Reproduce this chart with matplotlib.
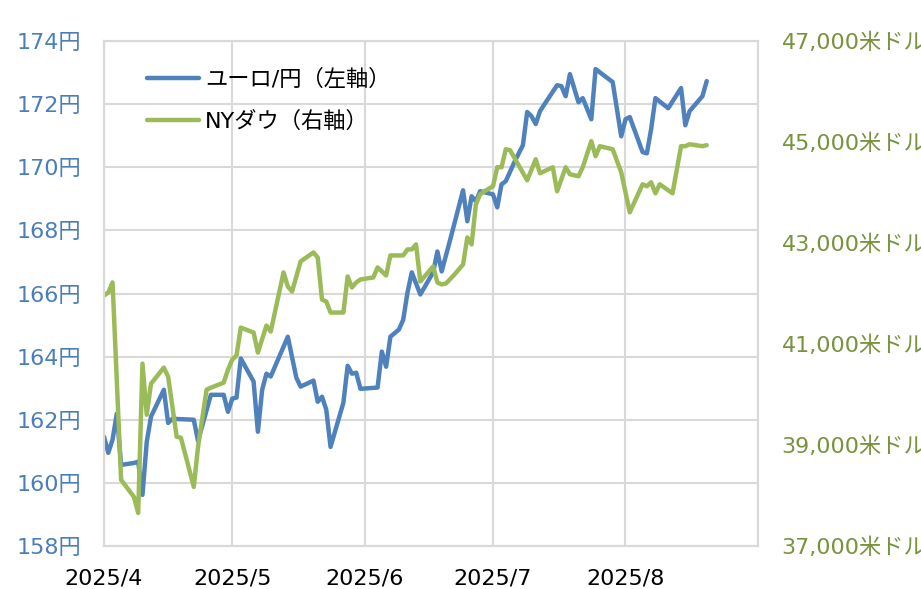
import matplotlib
matplotlib.use('Agg')
import matplotlib.pyplot as plt
import pandas as pd

plt.rcParams['font.family'] = ['DejaVu Sans', 'Noto Sans CJK JP']

# EUR/JPY (left axis)
eur_dates = ['2025-04-01', '2025-04-02', '2025-04-03', '2025-04-04', '2025-04-05',
             '2025-04-08', '2025-04-09', '2025-04-10', '2025-04-11', '2025-04-12',
             '2025-04-15', '2025-04-16', '2025-04-17', '2025-04-22', '2025-04-23',
             '2025-04-26', '2025-04-29', '2025-04-30', '2025-05-01', '2025-05-02',
             '2025-05-03', '2025-05-06', '2025-05-07', '2025-05-08', '2025-05-09',
             '2025-05-10', '2025-05-14', '2025-05-16', '2025-05-17', '2025-05-20',
             '2025-05-21', '2025-05-22', '2025-05-23', '2025-05-24', '2025-05-27',
             '2025-05-28', '2025-05-29', '2025-05-30', '2025-05-31', '2025-06-04',
             '2025-06-05', '2025-06-06', '2025-06-07', '2025-06-09', '2025-06-10',
             '2025-06-11', '2025-06-12', '2025-06-14', '2025-06-17', '2025-06-18',
             '2025-06-19', '2025-06-21', '2025-06-24', '2025-06-25', '2025-06-26',
             '2025-06-27', '2025-06-28', '2025-06-29', '2025-07-01', '2025-07-02',
             '2025-07-03', '2025-07-04', '2025-07-06', '2025-07-08', '2025-07-09',
             '2025-07-10', '2025-07-11', '2025-07-12', '2025-07-14', '2025-07-16',
             '2025-07-17', '2025-07-18', '2025-07-19', '2025-07-21', '2025-07-22',
             '2025-07-24', '2025-07-25', '2025-07-29', '2025-07-31', '2025-08-01',
             '2025-08-02', '2025-08-05', '2025-08-06', '2025-08-07', '2025-08-08',
             '2025-08-11', '2025-08-14', '2025-08-15', '2025-08-16', '2025-08-19',
             '2025-08-20']
eur_values = [161.46, 160.95, 161.37, 162.19, 160.57,
              160.63, 160.67, 159.62, 161.30, 162.10,
              162.95, 161.90, 162.03, 162.00, 161.33,
              162.79, 162.79, 162.25, 162.67, 162.70,
              163.94, 163.21, 161.62, 162.95, 163.46,
              163.37, 164.63, 163.33, 163.05, 163.24,
              162.57, 162.73, 162.32, 161.14, 162.54,
              163.71, 163.46, 163.49, 162.98, 163.02,
              164.16, 163.68, 164.63, 164.86, 165.17,
              166.03, 166.67, 165.97, 166.67, 167.33,
              166.70, 167.71, 169.27, 168.29, 169.08,
              168.92, 169.24, 169.21, 169.14, 168.73,
              169.46, 169.56, 170.16, 170.70, 171.75,
              171.62, 171.37, 171.78, 172.19, 172.60,
              172.57, 172.25, 172.95, 172.06, 172.19,
              171.52, 173.11, 172.70, 170.98, 171.52,
              171.59, 170.48, 170.44, 171.21, 172.19,
              171.87, 172.51, 171.33, 171.78, 172.25,
              172.73]

# NY Dow (right axis)
dow_dates = ['2025-04-01', '2025-04-02', '2025-04-03', '2025-04-05', '2025-04-08',
             '2025-04-09', '2025-04-10', '2025-04-11', '2025-04-12', '2025-04-15',
             '2025-04-16', '2025-04-18', '2025-04-19', '2025-04-22', '2025-04-23',
             '2025-04-25', '2025-04-26', '2025-04-29', '2025-04-30', '2025-05-01',
             '2025-05-02', '2025-05-03', '2025-05-06', '2025-05-07', '2025-05-09',
             '2025-05-10', '2025-05-13', '2025-05-14', '2025-05-15', '2025-05-17',
             '2025-05-20', '2025-05-21', '2025-05-22', '2025-05-23', '2025-05-24',
             '2025-05-27', '2025-05-28', '2025-05-29', '2025-05-30', '2025-05-31',
             '2025-06-03', '2025-06-04', '2025-06-06', '2025-06-07', '2025-06-10',
             '2025-06-11', '2025-06-12', '2025-06-13', '2025-06-14', '2025-06-17',
             '2025-06-18', '2025-06-19', '2025-06-20', '2025-06-22', '2025-06-24',
             '2025-06-25', '2025-06-26', '2025-06-27', '2025-06-28', '2025-06-29',
             '2025-07-01', '2025-07-02', '2025-07-03', '2025-07-04', '2025-07-05',
             '2025-07-09', '2025-07-11', '2025-07-12', '2025-07-15', '2025-07-16',
             '2025-07-18', '2025-07-19', '2025-07-21', '2025-07-22', '2025-07-24',
             '2025-07-25', '2025-07-26', '2025-07-29', '2025-07-31', '2025-08-02',
             '2025-08-05', '2025-08-06', '2025-08-07', '2025-08-08', '2025-08-09',
             '2025-08-12', '2025-08-14', '2025-08-15', '2025-08-16', '2025-08-19',
             '2025-08-20']
dow_values = [41960, 42020, 42218, 38310, 37973,
              37655, 40611, 39600, 40214, 40532,
              40353, 39163, 39143, 38171, 38965,
              40095, 40135, 40234, 40492, 40690,
              40770, 41325, 41226, 40830, 41365,
              41246, 42417, 42139, 42040, 42635,
              42813, 42714, 41880, 41841, 41623,
              41623, 42337, 42119, 42218, 42278,
              42317, 42516, 42357, 42754, 42754,
              42873, 42873, 42972, 42238, 42536,
              42218, 42179, 42198, 42377, 42575,
              43111, 42972, 43766, 43965, 44024,
              44123, 44500, 44500, 44857, 44837,
              44242, 44659, 44381, 44500, 44024,
              44500, 44361, 44322, 44500, 45016,
              44718, 44917, 44857, 44401, 43607,
              44163, 44123, 44202, 43984, 44163,
              43984, 44917, 44917, 44956, 44917,
              44937]

left_ticks = [158, 160, 162, 164, 166, 168, 170, 172, 174]
right_ticks = [37000, 39000, 41000, 43000, 45000, 47000]
month_starts = ['2025-04-01', '2025-05-01', '2025-06-01', '2025-07-01', '2025-08-01', '2025-09-01']
month_labels = ['2025/4', '2025/5', '2025/6', '2025/7', '2025/8', '']

BLUE = '#4f81bd'
GREEN = '#9bbb59'
GRID = '#d9d9d9'

fig = plt.figure(figsize=(9.21, 5.89), dpi=100)
ax = fig.add_axes([104 / 921, 1 - 546 / 589, 654 / 921, 505 / 589])
ax2 = ax.twinx()

l1, = ax.plot(pd.to_datetime(eur_dates), eur_values, color=BLUE, lw=3.2,
              solid_joinstyle='round', solid_capstyle='round', label='ユーロ/円（左軸）')
l2, = ax2.plot(pd.to_datetime(dow_dates), dow_values, color=GREEN, lw=3.2,
               solid_joinstyle='round', solid_capstyle='round', label='NYダウ（右軸）')

ax.set_xlim(pd.Timestamp('2025-04-01'), pd.Timestamp('2025-09-01'))
ax.set_ylim(158, 174)
ax2.set_ylim(37000, 47000)

ax.set_xticks(pd.to_datetime(month_starts))
ax.set_xticklabels(month_labels)
ax.set_yticks(left_ticks)
ax.set_yticklabels([f'{v}円' for v in left_ticks])
ax2.set_yticks(right_ticks)
ax2.set_yticklabels([f'{v:,}米ドル' for v in right_ticks])

ax.grid(True, color=GRID, lw=1.5)
ax.set_axisbelow(True)
ax.tick_params(axis='x', length=0, pad=16, labelsize=16, colors='black')
ax.tick_params(axis='y', length=0, pad=16.5, labelsize=16, labelcolor='#4a7ebb')
ax2.tick_params(axis='y', length=0, pad=17, labelsize=16, labelcolor='#77933c')

for a in (ax, ax2):
    for s in a.spines.values():
        s.set_color(GRID)
        s.set_linewidth(1.5)

ax2.legend(handles=[l1, l2], loc='upper left', bbox_to_anchor=(0.066, 0.945),
           frameon=False, fontsize=16, handlelength=2.35, handletextpad=0.25,
           labelspacing=0.95, borderpad=0, borderaxespad=0)

fig.savefig('out.png', dpi=100)
